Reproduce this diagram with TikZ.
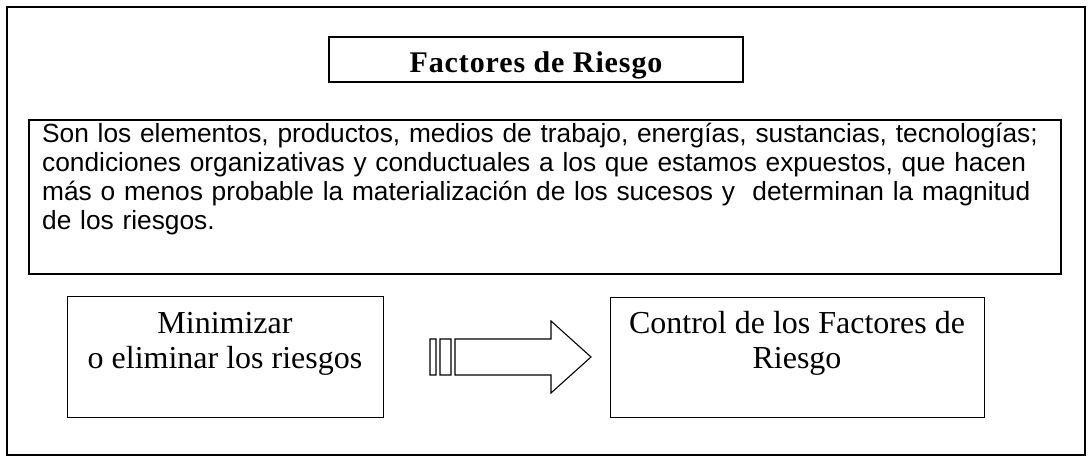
\documentclass[tikz,border=0pt]{standalone}
\usepackage{fontspec}
\setmainfont{Liberation Serif}
\newfontfamily\descfont{Liberation Sans}
\usetikzlibrary{positioning}

\tikzset{
  box/.style={draw, line width=1.2pt, inner sep=0pt},
  boxtext/.style={anchor=north, inner sep=0pt, align=center, font=\fontsize{32}{35}\selectfont},
}

\begin{document}
\begin{tikzpicture}[x=1pt,y=-1pt]
  \useasboundingbox (0,0) rectangle (1092,462);
  \draw[line width=2.2pt] (7,7) rectangle (1085,455);
  \node[box, line width=1.6pt, minimum width=414pt, minimum height=45pt, text height=27pt, text depth=0pt,
        font=\bfseries\fontsize{30}{34}\selectfont\addfontfeature{LetterSpace=3}] (title) at (536,59.5) {Factores de Riesgo};
  \node[box, line width=1.8pt, anchor=north west, minimum width=1032pt, minimum height=154pt] (desc) at (28,119) {};
  \node[anchor=north west, inner sep=0pt, align=left, text width=1040pt,
        font=\descfont\fontsize{26.3}{29}\selectfont] (desctext) at (42,121.7)
    {\strut Son los elementos, productos, medios de trabajo, energías, sustancias, tecnologías;\\
     condiciones organizativas y conductuales a los que estamos expuestos, que hacen\\
     más o menos probable la materialización de los sucesos y \ determinan la magnitud\\
     de los riesgos.};
  \node[box, anchor=north west, minimum width=316pt, minimum height=121pt] (minim) at (67,296) {};
  \node[boxtext] (minimtext) at (225,308.5) {\strut Minimizar\\o eliminar los riesgos};
  \node[box, anchor=north west, minimum width=374pt, minimum height=120pt] (control) at (610,297) {};
  \node[boxtext] (controltext) at (797,308.5) {\strut Control de los Factores de\\Riesgo};
  % flecha con franjas
  \draw[line width=1.1pt, line join=miter]
    (430,339) rectangle (436,375)
    (440,339) rectangle (451,375)
    (455,339) -- (551,339) -- (551,321) -- (591,357) -- (551,393) -- (551,375) -- (455,375) -- cycle;
\end{tikzpicture}
\end{document}
